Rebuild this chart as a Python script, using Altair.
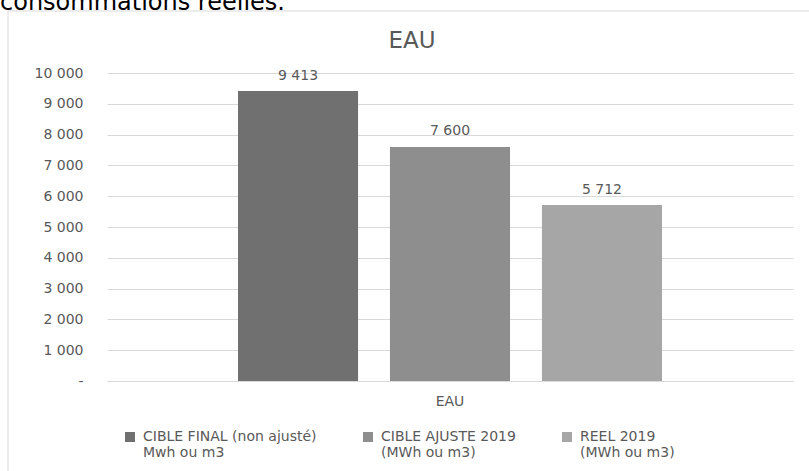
import altair as alt
import pandas as pd

# ---- data ----
categories = ["EAU", "EAU", "EAU"]
series = [
    "CIBLE FINAL (non ajusté)|Mwh ou m3",
    "CIBLE AJUSTE 2019|(MWh ou m3)",
    "REEL 2019|(MWh ou m3)",
]
values = [9413, 7600, 5712]
colors = ["#707070", "#8e8e8e", "#a6a6a6"]
y_ticks = [0, 1000, 2000, 3000, 4000, 5000, 6000, 7000, 8000, 9000, 10000]
chart_title = "EAU"
page_text = "consommations réelles."

df = pd.DataFrame({"cat": categories, "serie": series, "val": values})

FONT = "DejaVu Sans"
GREY = "#595959"
GRID = "#d9d9d9"

x_enc = alt.X(
    "cat:N",
    title=None,
    scale=alt.Scale(paddingInner=0, paddingOuter=0),
    axis=alt.Axis(
        labelAngle=0, ticks=False, domainColor=GRID, domainWidth=1,
        labelPadding=13, labelFontSize=14, labelColor=GREY, labelFont=FONT,
    ),
)
xoff_enc = alt.XOffset(
    "serie:N",
    scale=alt.Scale(domain=series, paddingInner=0.21, paddingOuter=0.862),
)
y_enc = alt.Y(
    "val:Q",
    title=None,
    scale=alt.Scale(domain=[0, 10000], nice=False),
    axis=alt.Axis(
        values=y_ticks, grid=True, gridColor=GRID, gridWidth=1,
        domain=False, ticks=False, labelPadding=24, labelOverlap=False,
        labelFont=FONT, labelFontSize=14, labelColor=GREY,
        labelExpr="datum.value == 0 ? '-\u00a0\u00a0\u00a0' : replace(format(datum.value, ','), ',', ' ')",
    ),
)
color_enc = alt.Color(
    "serie:N",
    scale=alt.Scale(domain=series, range=colors),
    legend=alt.Legend(
        title=None, orient="none", legendX=16, legendY=357,
        direction="horizontal", columns=3, columnPadding=44,
        labelExpr="split(datum.label, '|')",
        symbolType="square", symbolSize=100, symbolStrokeWidth=0,
        labelFont=FONT, labelFontSize=14, labelColor=GREY, labelOffset=6,
        labelLimit=400,
    ),
)

bars = alt.Chart(df).mark_bar().encode(
    x=x_enc, xOffset=xoff_enc, y=y_enc, color=color_enc
)

labels = alt.Chart(df).transform_calculate(
    lbl="replace(format(datum.val, ','), ',', ' ')"
).mark_text(
    baseline="alphabetic", dy=-11.5, font=FONT, fontSize=14, color=GREY
).encode(
    x=x_enc, xOffset=xoff_enc, y=y_enc, text="lbl:N"
)

frame = alt.Chart(alt.Data(values=[{}])).mark_rect(
    fillOpacity=0, stroke=GRID, strokeWidth=1
).encode(
    x=alt.value(-99), x2=alt.value(720), y=alt.value(-62), y2=alt.value(420)
)

top_text = alt.Chart(alt.Data(values=[{}])).mark_text(
    text=page_text, align="left", baseline="alphabetic",
    font=FONT, fontSize=24, color="#000000"
).encode(x=alt.value(-107), y=alt.value(-63))

title_text = alt.Chart(alt.Data(values=[{}])).mark_text(
    text=chart_title, align="center", baseline="alphabetic",
    font=FONT, fontSize=23, color=GREY
).encode(x=alt.value(305), y=alt.value(-25))

chart = alt.layer(frame, top_text, title_text, bars, labels).properties(
    width=686,
    height=308,
    autosize=alt.AutoSizeParams(type="none"),
    padding={"left": 107, "top": 73, "right": 16, "bottom": 90},
    background="white",
).configure_view(stroke=None)

chart.save("out.html", embed_options={"renderer": "svg", "actions": False})
